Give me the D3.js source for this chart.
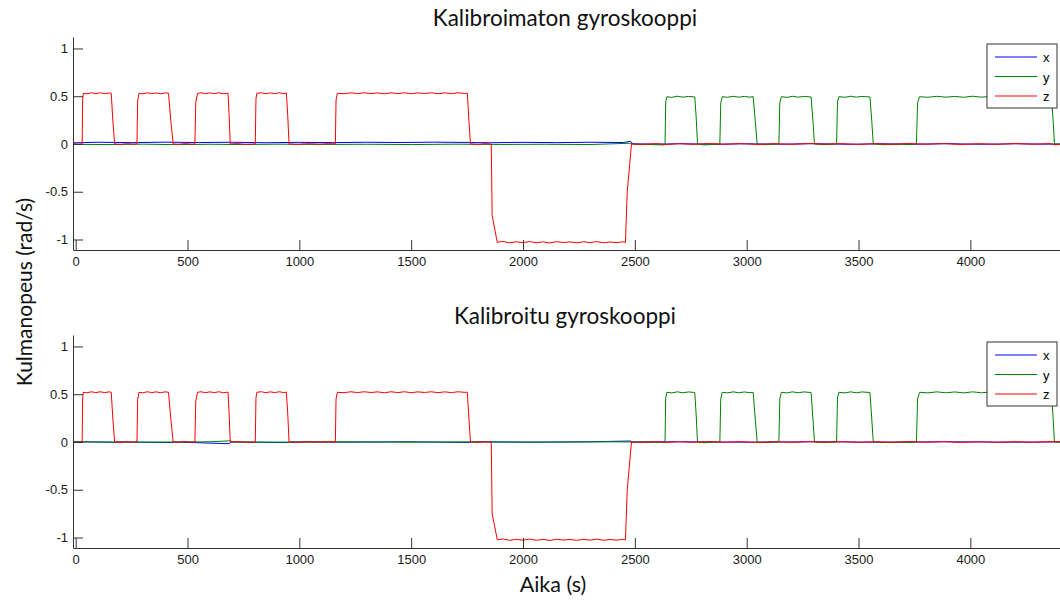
<!DOCTYPE html>
<html>
<head>
<meta charset="utf-8">
<script src="https://cdn.jsdelivr.net/npm/d3@7"></script>
<style>
  body { margin: 0; background: #fff; }
  .tick text { font-family: "Liberation Sans", Arial, sans-serif; font-size: 13px; fill: #1a1a1a; }
  .axis path, .axis line { stroke: #333; }
  .title, .label { font-family: Lato, "Open Sans", sans-serif; fill: #111; }
</style>
</head>
<body>
<script>
// time / value pairs (t in s, value in rad/s)
var yTicks = [-1, -0.5, 0, 0.5, 1];
var xTicks = [0, 500, 1000, 1500, 2000, 2500, 3000, 3500, 4000];
var seriesNames = ["x", "y", "z"];
var seriesColors = ["#0000ff", "#008000", "#ff0000"];
var titles = ["Kalibroimaton gyroskooppi", "Kalibroitu gyroskooppi"];

// uncalibrated
var xTop = [[-12,0.012],[100,0.018],[250,0.014],[400,0.019],[550,0.015],[700,0.018],[850,0.013],[1000,0.017],[1150,0.014],
  [1300,0.018],[1450,0.015],[1600,0.019],[1750,0.016],[1850,0.013],[2000,0.017],[2150,0.014],[2300,0.018],[2450,0.015],
  [2480,0.028],[2492,0.002],[2600,-0.002],[2700,0.003],[2850,-0.003],[3000,0.002],[3150,-0.002],[3300,0.003],[3450,-0.003],
  [3600,0.002],[3750,-0.002],[3900,0.003],[4050,-0.003],[4200,0.002],[4350,-0.002],[4460,0.001]];
var yTop = [[-12,-0.004],[150,-0.006],[300,-0.002],[450,-0.007],[600,-0.003],[750,-0.006],[900,-0.002],[1100,-0.005],
  [1300,-0.003],[1500,-0.006],[1700,-0.002],[1900,-0.005],[2100,-0.003],[2300,-0.006],[2480,0.008],[2500,-0.004],[2560,-0.006],
  [2632,-0.01],[2635,0.0],[2638,0.44],[2643,0.495],[2665,0.488],[2690,0.5],[2715,0.49],[2740,0.498],[2768,0.492],[2775,0.25],[2780,0.0],
  [2810,-0.01],[2850,-0.004],[2880,0.0],[2884,0.43],[2891,0.495],[2915,0.489],[2940,0.499],[2965,0.49],[2990,0.498],[3015,0.49],[3029,0.496],[3038,0.25],[3047,0.0],
  [3080,-0.008],[3115,-0.003],[3144,0.0],[3148,0.43],[3155,0.495],[3180,0.488],[3205,0.499],[3230,0.49],[3255,0.498],[3288,0.492],[3296,0.25],[3303,0.0],
  [3340,-0.006],[3375,-0.003],[3402,0.0],[3406,0.44],[3412,0.495],[3440,0.489],[3465,0.5],[3490,0.49],[3515,0.498],[3551,0.492],[3559,0.25],[3566,0.0],
  [3610,-0.008],[3680,-0.003],[3740,-0.006],[3759,0.0],[3764,0.43],[3773,0.495],[3810,0.489],[3850,0.499],[3890,0.49],[3930,0.498],
  [3970,0.489],[4010,0.5],[4050,0.49],[4090,0.498],[4130,0.489],[4170,0.499],[4210,0.49],[4250,0.498],[4290,0.489],[4330,0.499],[4363,0.492],
  [4370,0.25],[4376,0.0],[4420,-0.004],[4460,-0.002]];
var zTop = [[-12,0.005],[10,-0.003],[29,0.0],[31,0.46],[34,0.53],[50,0.525],[70,0.536],[90,0.527],[110,0.536],[130,0.527],[150,0.535],
  [159,0.53],[166,0.25],[174,0.0],[200,-0.004],[230,0.003],[260,-0.002],[274,0.0],[277,0.45],[283,0.53],[300,0.525],[320,0.536],
  [340,0.527],[360,0.535],[380,0.526],[400,0.535],[415,0.53],[425,0.25],[436,0.0],[460,-0.003],[490,0.004],[520,-0.002],[533,0.0],
  [537,0.44],[545,0.53],[560,0.536],[580,0.526],[600,0.535],[620,0.527],[640,0.536],[660,0.526],[681,0.532],[686,0.3],[691,0.0],
  [720,0.004],[760,-0.003],[803,0.0],[806,0.47],[810,0.53],[830,0.536],[850,0.526],[870,0.535],[890,0.527],[910,0.536],[930,0.527],
  [942,0.532],[948,0.3],[954,0.0],[990,-0.004],[1040,0.003],[1090,-0.002],[1130,0.004],[1161,0.0],[1164,0.46],[1170,0.53],[1200,0.526],
  [1230,0.536],[1260,0.527],[1290,0.536],[1320,0.528],[1350,0.535],[1380,0.525],[1410,0.536],[1440,0.527],[1470,0.536],[1500,0.526],
  [1530,0.535],[1560,0.528],[1590,0.536],[1620,0.526],[1650,0.535],[1680,0.527],[1710,0.536],[1740,0.529],[1751,0.532],[1758,0.25],
  [1765,0.0],[1800,-0.004],[1830,0.003],[1858,0.0],[1862,-0.75],[1885,-1.03],[1910,-1.02],[1940,-1.035],[1970,-1.024],[2000,-1.033],
  [2030,-1.022],[2060,-1.034],[2090,-1.025],[2120,-1.036],[2150,-1.023],[2180,-1.032],[2210,-1.025],[2240,-1.035],[2270,-1.024],
  [2300,-1.033],[2330,-1.022],[2360,-1.034],[2390,-1.026],[2420,-1.033],[2445,-1.024],[2458,-1.03],[2466,-0.5],[2485,0.0],
  [2530,-0.005],[2600,0.004],[2640,-0.006],[2700,0.003],[2760,-0.004],[2830,0.005],[2900,-0.003],[2970,0.004],[3050,-0.006],
  [3120,0.003],[3200,-0.004],[3280,0.005],[3350,-0.003],[3420,0.004],[3500,-0.005],[3580,0.003],[3650,-0.004],[3720,0.005],
  [3800,-0.003],[3880,0.004],[3960,-0.006],[4040,0.003],[4120,-0.004],[4200,0.005],[4280,-0.003],[4360,0.004],[4380,-0.01],
  [4420,0.003],[4460,-0.002]];

// calibrated
var xBottom = [[-12,0.002],[165,-0.002],[172,-0.008],[180,0.001],[430,-0.006],[440,0.0],[686,-0.018],[695,0.0],[950,-0.006],
  [960,0.001],[1200,-0.002],[1500,0.002],[1760,-0.005],[1770,0.001],[2000,-0.002],[2300,0.002],[2480,0.01],[2490,0.0],
  [2700,0.002],[3000,-0.002],[3300,0.002],[3600,-0.002],[3900,0.002],[4200,-0.002],[4460,0.001]];
var yBottom = [[-12,0.001],[300,-0.002],[600,0.002],[690,0.012],[700,0.0],[900,-0.002],[1200,0.002],[1500,-0.002],[1800,0.002],
  [2100,-0.002],[2400,0.002],[2632,-0.004],[2635,0.0],[2638,0.46],[2643,0.52],[2665,0.514],[2690,0.525],[2715,0.515],[2740,0.524],
  [2768,0.518],[2775,0.25],[2780,0.0],[2810,-0.008],[2850,-0.002],[2880,0.0],[2884,0.45],[2891,0.52],[2915,0.514],[2940,0.525],
  [2965,0.515],[2990,0.524],[3015,0.515],[3029,0.52],[3038,0.25],[3047,0.0],[3080,-0.006],[3115,-0.002],[3144,0.0],[3148,0.45],
  [3155,0.52],[3180,0.514],[3205,0.525],[3230,0.515],[3255,0.524],[3288,0.518],[3296,0.25],[3303,0.0],[3340,-0.005],[3375,-0.002],
  [3402,0.0],[3406,0.46],[3412,0.52],[3440,0.514],[3465,0.525],[3490,0.515],[3515,0.524],[3551,0.518],[3559,0.25],[3566,0.0],
  [3610,-0.006],[3680,-0.002],[3740,-0.005],[3759,0.0],[3764,0.45],[3773,0.52],[3810,0.514],[3850,0.525],[3890,0.515],[3930,0.524],
  [3970,0.514],[4010,0.525],[4050,0.515],[4090,0.524],[4130,0.514],[4170,0.525],[4210,0.515],[4250,0.524],[4290,0.514],[4330,0.525],
  [4363,0.518],[4370,0.25],[4376,0.0],[4420,-0.003],[4460,-0.001]];
var zBottom = [[-12,0.002],[10,-0.003],[29,0.0],[31,0.45],[34,0.52],[50,0.515],[70,0.526],[90,0.517],[110,0.526],[130,0.517],[150,0.525],
  [159,0.52],[166,0.25],[174,0.0],[200,-0.004],[230,0.003],[260,-0.002],[274,0.0],[277,0.44],[283,0.52],[300,0.515],[320,0.526],
  [340,0.517],[360,0.525],[380,0.516],[400,0.525],[415,0.52],[425,0.25],[436,0.0],[460,-0.003],[490,0.004],[520,-0.002],[533,0.0],
  [537,0.43],[545,0.52],[560,0.526],[580,0.516],[600,0.525],[620,0.517],[640,0.526],[660,0.516],[681,0.522],[686,0.3],[691,0.0],
  [720,0.004],[760,-0.003],[803,0.0],[806,0.46],[810,0.52],[830,0.526],[850,0.516],[870,0.525],[890,0.517],[910,0.526],[930,0.517],
  [942,0.522],[948,0.3],[954,0.0],[990,-0.004],[1040,0.003],[1090,-0.002],[1130,0.004],[1161,0.0],[1164,0.45],[1170,0.52],[1200,0.516],
  [1230,0.526],[1260,0.517],[1290,0.526],[1320,0.518],[1350,0.525],[1380,0.515],[1410,0.526],[1440,0.517],[1470,0.526],[1500,0.516],
  [1530,0.525],[1560,0.518],[1590,0.526],[1620,0.516],[1650,0.525],[1680,0.517],[1710,0.526],[1740,0.519],[1751,0.522],[1758,0.25],
  [1765,0.0],[1800,-0.004],[1830,0.003],[1858,0.0],[1862,-0.75],[1885,-1.025],[1910,-1.015],[1940,-1.03],[1970,-1.019],[2000,-1.028],
  [2030,-1.017],[2060,-1.029],[2090,-1.02],[2120,-1.031],[2150,-1.018],[2180,-1.027],[2210,-1.02],[2240,-1.03],[2270,-1.019],
  [2300,-1.028],[2330,-1.017],[2360,-1.029],[2390,-1.021],[2420,-1.028],[2445,-1.019],[2458,-1.025],[2466,-0.5],[2485,0.0],
  [2530,-0.004],[2600,0.003],[2640,-0.005],[2700,0.003],[2760,-0.004],[2830,0.004],[2900,-0.003],[2970,0.004],[3050,-0.005],
  [3120,0.003],[3200,-0.004],[3280,0.004],[3350,-0.003],[3420,0.004],[3500,-0.004],[3580,0.003],[3650,-0.004],[3720,0.004],
  [3800,-0.003],[3880,0.004],[3960,-0.005],[4040,0.003],[4120,-0.004],[4200,0.004],[4280,-0.003],[4360,0.004],[4420,0.002],[4460,-0.002]];

var panelData = [[xTop, yTop, zTop], [xBottom, yBottom, zBottom]];

var width = 1060, height = 605;
var plotLeft = 73, plotRight = 1071;
var panelTops = [37, 335], panelHeight = 213;

var svg = d3.select("body").append("svg")
    .attr("width", width)
    .attr("height", height);

var x = d3.scaleLinear().domain([-12, 4450]).range([plotLeft, plotRight]);

var line = d3.line();

panelData.forEach(function(series, p) {
  var top = panelTops[p];
  var y = d3.scaleLinear().domain([-1.11, 1.12]).range([top + panelHeight, top]);

  svg.append("clipPath").attr("id", "clip" + p)
    .append("rect")
      .attr("x", plotLeft).attr("y", top)
      .attr("width", plotRight - plotLeft).attr("height", panelHeight);

  // title
  svg.append("text")
      .attr("class", "title")
      .attr("x", 565)
      .attr("y", top - 11)
      .attr("text-anchor", "middle")
      .style("font-size", "22.5px")
      .text(titles[p]);

  var plot = svg.append("g").attr("clip-path", "url(#clip" + p + ")");
  series.forEach(function(pts, i) {
    line.x(function(d) { return x(d[0]); }).y(function(d) { return y(d[1]); });
    plot.append("path")
        .datum(pts)
        .attr("fill", "none")
        .attr("stroke", seriesColors[i])
        .attr("stroke-width", 1)
        .attr("d", line);
  });

  svg.append("g")
      .attr("class", "axis")
      .attr("transform", "translate(0," + (top + panelHeight) + ")")
      .call(d3.axisBottom(x).tickValues(xTicks).tickSizeInner(-10).tickSizeOuter(0).tickPadding(7)
        .tickFormat(function(d) { return String(d); }));

  svg.append("g")
      .attr("class", "axis")
      .attr("transform", "translate(" + plotLeft + ",0)")
      .call(d3.axisLeft(y).tickValues(yTicks).tickSizeInner(-10).tickSizeOuter(0).tickPadding(5)
        .tickFormat(function(d) { return d < 0 ? "-" + Math.abs(d) : String(d); }));

  // legend
  var lg = svg.append("g").attr("transform", "translate(987," + (top + 7) + ")");
  lg.append("rect")
      .attr("width", 70).attr("height", 64)
      .attr("fill", "#fff").attr("stroke", "#333");
  seriesNames.forEach(function(name, i) {
    var ly = 13 + i * 19.5;
    lg.append("line")
        .attr("x1", 8).attr("x2", 50).attr("y1", ly).attr("y2", ly)
        .attr("stroke", seriesColors[i]).attr("stroke-width", 1);
    lg.append("text")
        .attr("x", 56).attr("y", ly + 5)
        .style("font-family", "'Liberation Sans', Arial, sans-serif")
        .style("font-size", "13px")
        .text(name);
  });
});

svg.append("text")
    .attr("class", "label")
    .attr("transform", "translate(32,292) rotate(-90)")
    .attr("text-anchor", "middle")
    .style("font-size", "21px")
    .text("Kulmanopeus (rad/s)");

svg.append("text")
    .attr("class", "label")
    .attr("x", 553)
    .attr("y", 592)
    .attr("text-anchor", "middle")
    .style("font-size", "21.5px")
    .text("Aika (s)");
</script>
</body>
</html>
